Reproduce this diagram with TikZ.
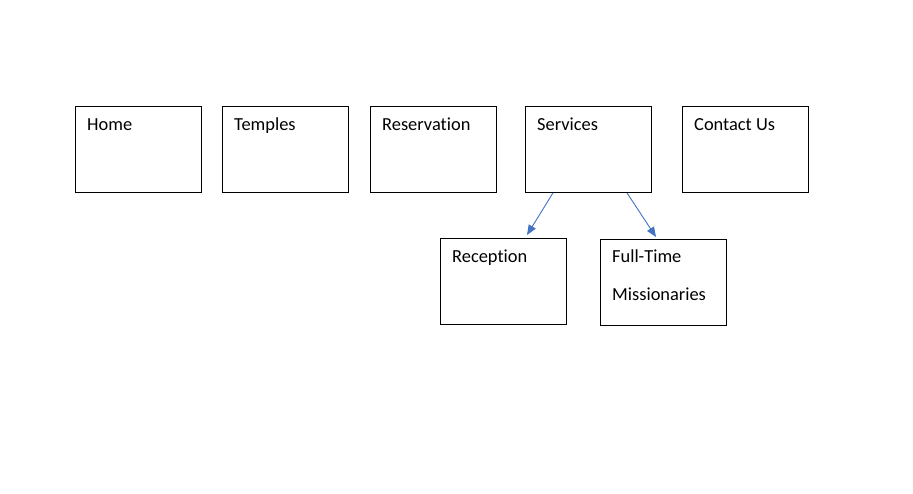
\documentclass[tikz,border=0pt]{standalone}
\usepackage{fontspec}
\setmainfont[Ligatures=NoCommon]{Carlito}
\usetikzlibrary{arrows.meta}
\definecolor{arrowblue}{HTML}{4472C4}
\begin{document}
\begin{tikzpicture}[x=1pt,y=-1pt,
  pagebox/.style={draw=black,line width=0.9pt,minimum width=126pt,minimum height=86pt,anchor=north west,inner sep=0pt},
  lbl/.style={anchor=base west,inner sep=0pt,font=\fontsize{18.4pt}{22pt}\selectfont},
  link/.style={draw=arrowblue,line width=0.9pt,-{Triangle[length=10pt,width=8pt]}}]
\useasboundingbox[fill=white] (0,0) rectangle (913,493);
\node[pagebox] (home) at (75,106) {};
\node[pagebox] (temples) at (222,106) {};
\node[pagebox] (reservation) at (370,106) {};
\node[pagebox] (services) at (525,106) {};
\node[pagebox] (contact) at (682,106) {};
\node[pagebox] (reception) at (440,238) {};
\node[pagebox] (fulltime) at (600,239) {};
\node[lbl] (t1) at (87,130) {Home};
\node[lbl] (t2) at (234,130) {Temples};
\node[lbl] (t3) at (382,130) {Reservation};
\node[lbl] (t4) at (537,130) {Services};
\node[lbl] (t5) at (694,130) {Contact Us};
\node[lbl] (t6) at (452,262) {Reception};
\node[lbl] (t7) at (612,262) {Full-Time};
\node[lbl] (t8) at (612,300) {Missionaries};
\coordinate (a1s) at ([xshift=28pt]services.south west);
\coordinate (a2s) at ([xshift=102pt]services.south west);
\coordinate (a1e) at (527,235);
\coordinate (a2e) at (656,237);
\draw[link] (a1s) -- (a1e);
\draw[link] (a2s) -- (a2e);
\end{tikzpicture}
\end{document}
